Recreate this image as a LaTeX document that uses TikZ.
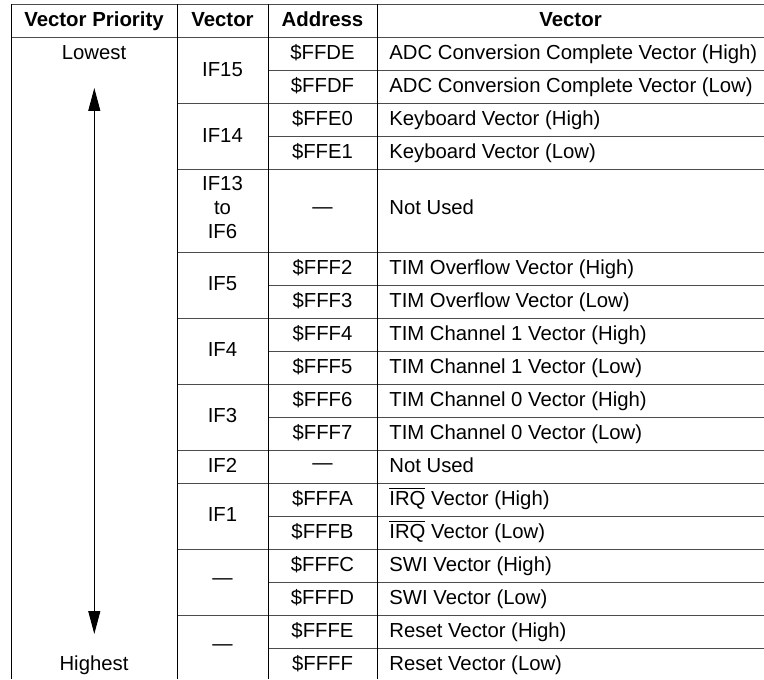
\documentclass[tikz,border=0pt]{standalone}
\usepackage{fontspec}
\setmainfont{Liberation Sans}
\usetikzlibrary{arrows.meta}
\begin{document}
\begin{tikzpicture}[x=0.5pt,y=-0.5pt,
  txt/.style={inner sep=0pt, anchor=base, yshift=1.2pt, font=\fontsize{10.15}{12}\selectfont},
  hdr/.style={txt, font=\fontsize{10.2}{12}\selectfont\bfseries},
  lt/.style={txt, anchor=base west},
  hl/.style={line width=0.5pt, draw=black!70},
  vl/.style={line width=0.5pt, draw=black},
  dblarrow/.style={line width=0.5pt, {Triangle[length=11.5pt,width=6pt]}-{Triangle[length=11.5pt,width=6pt]}},
]
\useasboundingbox (0,0) rectangle (764,679);
% grid
\draw[hl] (11,4.3) -- (764,4.3);
\draw[hl] (11,37.5) -- (764,37.5);
\foreach \y in {103.5,169.7,252,318,384,450,483,549,615}
  \draw[hl] (177,\y) -- (764,\y);
\foreach \y in {70.7,136.7,285,351,417,516,582,648}
  \draw[hl] (268,\y) -- (764,\y);
\foreach \x in {11,177,268,377}
  \draw[vl] (\x,4.3) -- (\x,679);
% header
\node[hdr] (h1) at (94,28.5) {Vector Priority};
\node[hdr] (h2) at (222.5,28.5) {Vector};
\node[hdr] (h3) at (322.5,28.5) {Address};
\node[hdr] (h4) at (570.5,28.5) {Vector};
% priority column
\node[txt] (low) at (94,62.2) {Lowest};
\node[txt] (high) at (94,672.5) {Highest};
\coordinate (aup) at (94.3,88);
\coordinate (adn) at (94.3,634);
\draw[dblarrow] (aup) -- (adn);
% vector column
\node[txt] (v15) at (222.5,78.7) {IF15};
\node[txt] (v14) at (222.5,144.7) {IF14};
\node[txt] (v13a) at (222.5,192.5) {IF13};
\node[txt] (v13b) at (222.5,216.5) {to};
\node[txt] (v13c) at (222.5,240.5) {IF6};
\node[txt] (v5) at (222.5,293) {IF5};
\node[txt] (v4) at (222.5,359) {IF4};
\node[txt] (v3) at (222.5,425) {IF3};
\node[txt] (v2) at (222.5,474.5) {IF2};
\node[txt] (v1) at (222.5,524) {IF1};
\node[txt] (vs) at (222.5,587) {—};
\node[txt] (vr) at (222.5,653) {—};
% address column
\node[txt] (a1) at (322.5,62.2) {\$FFDE};
\node[txt] (a2) at (322.5,95.2) {\$FFDF};
\node[txt] (a3) at (322.5,128.2) {\$FFE0};
\node[txt] (a4) at (322.5,161.2) {\$FFE1};
\node[txt] (a5) at (322.5,216) {—};
\node[txt] (a6) at (322.5,276.5) {\$FFF2};
\node[txt] (a7) at (322.5,309.5) {\$FFF3};
\node[txt] (a8) at (322.5,342.5) {\$FFF4};
\node[txt] (a9) at (322.5,375.5) {\$FFF5};
\node[txt] (a10) at (322.5,408.5) {\$FFF6};
\node[txt] (a11) at (322.5,441.5) {\$FFF7};
\node[txt] (a12) at (322.5,471.5) {—};
\node[txt] (a13) at (322.5,507.5) {\$FFFA};
\node[txt] (a14) at (322.5,540.5) {\$FFFB};
\node[txt] (a15) at (322.5,573.5) {\$FFFC};
\node[txt] (a16) at (322.5,606.5) {\$FFFD};
\node[txt] (a17) at (322.5,639.5) {\$FFFE};
\node[txt] (a18) at (322.5,672.5) {\$FFFF};
% description column
\node[lt] (d1) at (389,62.2) {ADC Conversion Complete Vector (High)};
\node[lt] (d2) at (389,95.2) {ADC Conversion Complete Vector (Low)};
\node[lt] (d3) at (389,128.2) {Keyboard Vector (High)};
\node[lt] (d4) at (389,161.2) {Keyboard Vector (Low)};
\node[lt] (d5) at (389,216.5) {Not Used};
\node[lt] (d6) at (389,276.5) {TIM Overflow Vector (High)};
\node[lt] (d7) at (389,309.5) {TIM Overflow Vector (Low)};
\node[lt] (d8) at (389,342.5) {TIM Channel 1 Vector (High)};
\node[lt] (d9) at (389,375.5) {TIM Channel 1 Vector (Low)};
\node[lt] (d10) at (389,408.5) {TIM Channel 0 Vector (High)};
\node[lt] (d11) at (389,441.5) {TIM Channel 0 Vector (Low)};
\node[lt] (d12) at (389,474.5) {Not Used};
\node[lt] (d13) at (389,507.5) {$\overline{\mbox{IRQ}}$ Vector (High)};
\node[lt] (d14) at (389,540.5) {$\overline{\mbox{IRQ}}$ Vector (Low)};
\node[lt] (d15) at (389,573.5) {SWI Vector (High)};
\node[lt] (d16) at (389,606.5) {SWI Vector (Low)};
\node[lt] (d17) at (389,639.5) {Reset Vector (High)};
\node[lt] (d18) at (389,672.5) {Reset Vector (Low)};
\end{tikzpicture}
\end{document}
